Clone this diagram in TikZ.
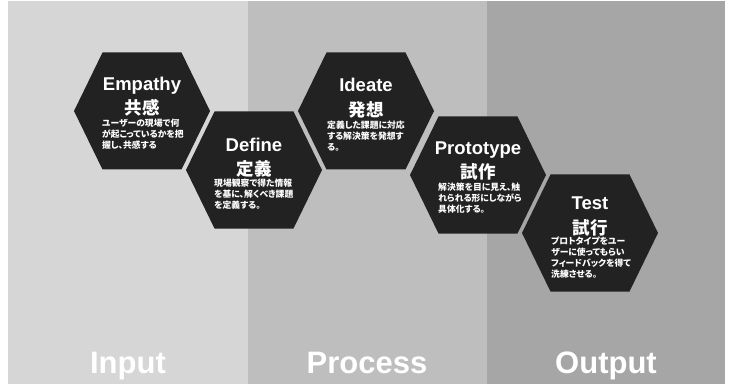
\documentclass[tikz,border=0pt]{standalone}
\usepackage{fontspec}
\setmainfont{Liberation Sans}
\newfontfamily\jafont{Noto Sans CJK JP}
\newfontfamily\jabodyfont{Noto Sans CJK JP}[RawFeature=+palt]

\definecolor{inputgray}{HTML}{D6D6D6}
\definecolor{processgray}{HTML}{BEBEBE}
\definecolor{outputgray}{HTML}{A6A6A6}
\definecolor{hexblack}{HTML}{222222}

\tikzset{
  hexcell/.style={fill=hexblack},
  entitle/.style={text=white, inner sep=0, font=\bfseries\fontsize{18.5}{18.5}\selectfont},
  jatitle/.style={text=white, inner sep=0, font=\jafont\bfseries\fontsize{17.5}{17.5}\selectfont},
  jabody/.style={text=white, inner sep=0, anchor=north west, align=left,
    font=\jabodyfont\bfseries\fontsize{8.8}{11}\selectfont},
  bandlabel/.style={text=white, inner sep=0, anchor=base, font=\bfseries\fontsize{31}{31}\selectfont}
}

% flat-topped hexagon around (#1,#2)
\newcommand{\hexat}[2]{%
  \fill[hexcell] (#1-68,#2) -- (#1-39.5,#2-58.5) -- (#1+39.5,#2-58.5)
    -- (#1+68,#2) -- (#1+39.5,#2+58.5) -- (#1-39.5,#2+58.5) -- cycle;}

\begin{document}
\begin{tikzpicture}[x=1pt, y=-1pt]
  \useasboundingbox (0,0) rectangle (731,385);
  \fill[white] (0,0) rectangle (731,385);

  % bands
  \fill[inputgray] (8,1) rectangle (248,384);
  \fill[processgray] (248,1) rectangle (487,384);
  \fill[outputgray] (487,1) rectangle (725,384);

  \node[bandlabel] (input) at (128,373) {Input};
  \node[bandlabel] (process) at (367,373) {Process};
  \node[bandlabel] (output) at (606,373) {Output};

  % hexagons
  \hexat{142}{111}
  \hexat{254}{170}
  \hexat{366}{111}
  \hexat{478}{175}
  \hexat{590}{233}

  \node[entitle] (empathyEn) at (142,86) {Empathy};
  \node[jatitle] (empathyJa) at (142,108) {共感};
  \node[jabody] (empathyTxt) at (102,119) {ユーザーの現場で何\\が起こっているかを把\\握し、共感する};

  \node[entitle] (defineEn) at (254,145) {Define};
  \node[jatitle] (defineJa) at (254,169) {定義};
  \node[jabody] (defineTxt) at (214,179) {現場観察で得た情報\\を基に、解くべき課題\\を定義する。};

  \node[entitle] (ideateEn) at (366,85) {Ideate};
  \node[jatitle] (ideateJa) at (366,110) {発想};
  \node[jabody] (ideateTxt) at (327,121) {定義した課題に対応\\する解決策を発想す\\る。};

  \node[entitle] (protoEn) at (478,150) {Prototype};
  \node[jatitle] (protoJa) at (478,172) {試作};
  \node[jabody] (protoTxt) at (438,183) {解決策を目に見え、触\\れられる形にしながら\\具体化する。};

  \node[entitle] (testEn) at (590,203) {Test};
  \node[jatitle] (testJa) at (590,228) {試行};
  \node[jabody] (testTxt) at (551,237) {プロトタイプをユー\\ザーに使ってもらい\\フィードバックを得て\\洗練させる。};
\end{tikzpicture}
\end{document}
